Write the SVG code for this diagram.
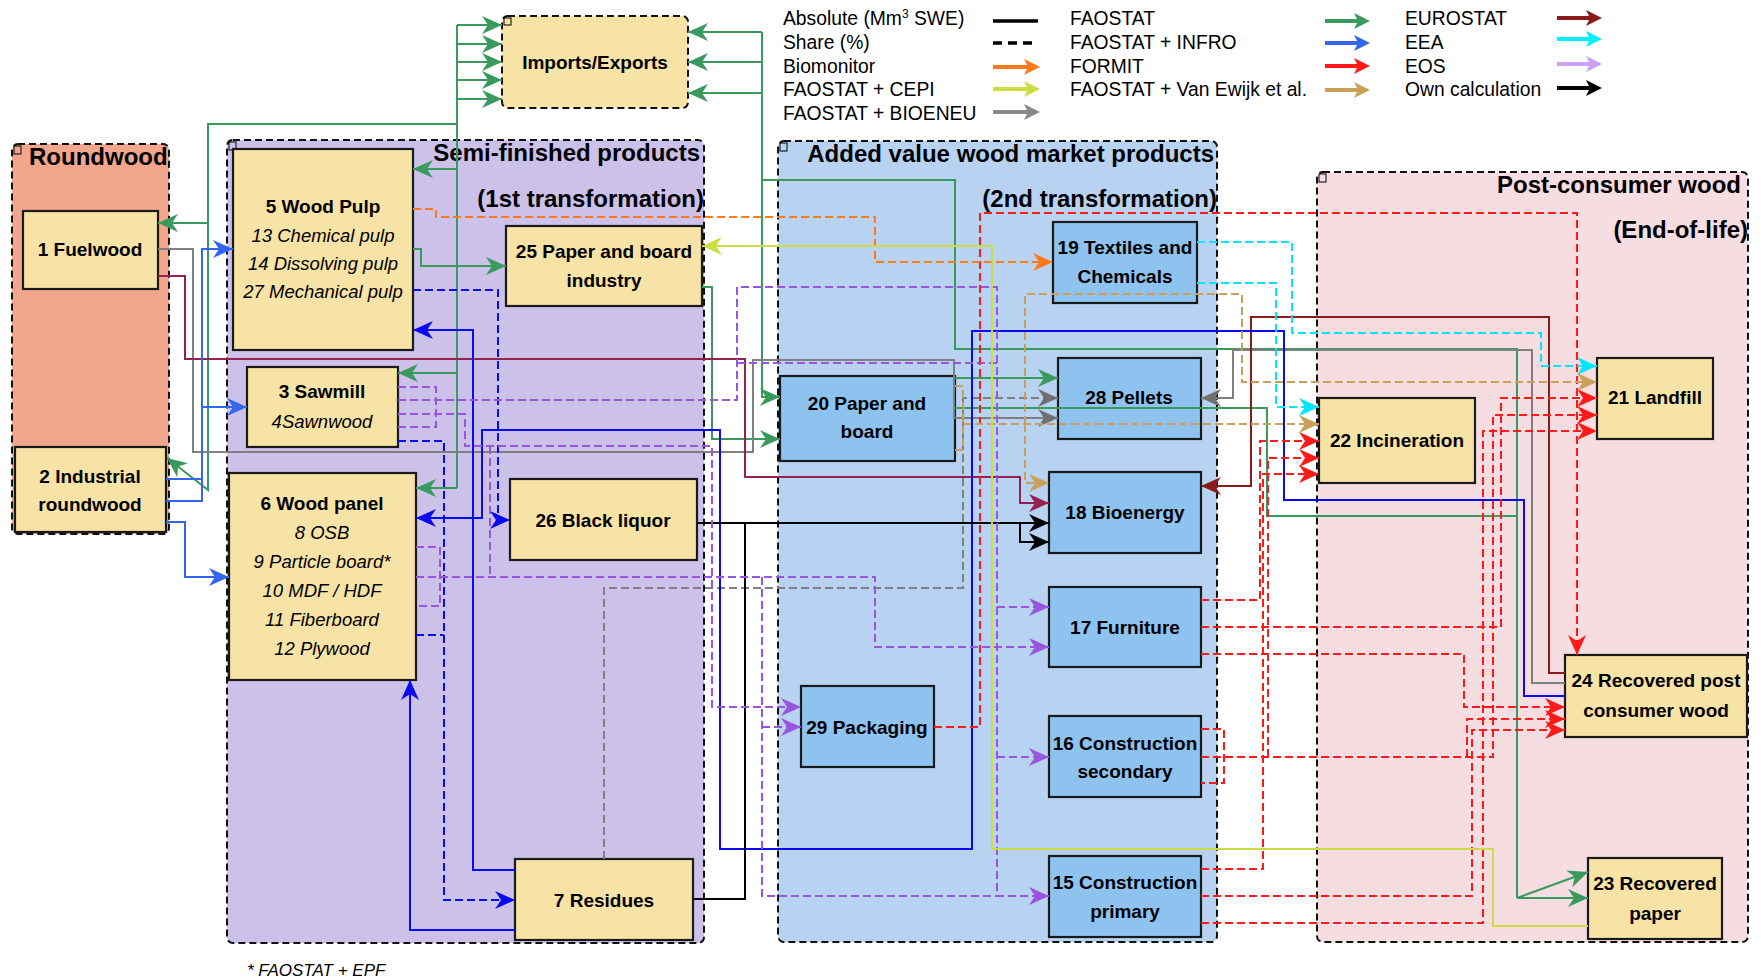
<svg xmlns="http://www.w3.org/2000/svg" width="1761" height="980" viewBox="0 0 1761 980">
<style>
.grp{stroke:#111;stroke-width:2;stroke-dasharray:7 4}
.node{stroke:#1a1a1a;stroke-width:2.2}
.y{fill:#F7E3A5}.b{fill:#8EC2EF}
text{font-family:"Liberation Sans",Arial,sans-serif;fill:#000}
.t{font-size:19px;font-weight:bold;text-anchor:middle}
.i{font-size:18.5px;font-style:italic;text-anchor:middle}
.ttl{font-size:24px;font-weight:bold}
.lg{font-size:19.3px}
.c{fill:none;stroke-width:2}
.d{stroke-dasharray:8 4}
.gr{stroke:#3A9A5E}.gy{stroke:#7F7F7F}.mr{stroke:#962050}.dr{stroke:#8B1A1A}
.bl{stroke:#3366EE}.bp{stroke:#0A0AF0}.bk{stroke:#000}.pu{stroke:#9955DD}
.rd{stroke:#FF1A1A}.cy{stroke:#00E6FF}.tn{stroke:#C9A05A}.or{stroke:#FF7A1A}.yg{stroke:#CCDD44}
.lgl{fill:none;stroke-width:4}
</style>
<defs>
<marker id="aGr" markerUnits="userSpaceOnUse" markerWidth="20" markerHeight="18" viewBox="0 0 20 18" refX="20" refY="9" orient="auto"><path d="M0,0 L20,9 L0,18 L6,9 Z" fill="#3A9A5E"/></marker>
<marker id="aGy" markerUnits="userSpaceOnUse" markerWidth="20" markerHeight="18" viewBox="0 0 20 18" refX="20" refY="9" orient="auto"><path d="M0,0 L20,9 L0,18 L6,9 Z" fill="#6F6F6F"/></marker>
<marker id="aMr" markerUnits="userSpaceOnUse" markerWidth="20" markerHeight="18" viewBox="0 0 20 18" refX="20" refY="9" orient="auto"><path d="M0,0 L20,9 L0,18 L6,9 Z" fill="#962050"/></marker>
<marker id="aDr" markerUnits="userSpaceOnUse" markerWidth="20" markerHeight="18" viewBox="0 0 20 18" refX="20" refY="9" orient="auto"><path d="M0,0 L20,9 L0,18 L6,9 Z" fill="#8B1A1A"/></marker>
<marker id="aBl" markerUnits="userSpaceOnUse" markerWidth="20" markerHeight="18" viewBox="0 0 20 18" refX="20" refY="9" orient="auto"><path d="M0,0 L20,9 L0,18 L6,9 Z" fill="#3366EE"/></marker>
<marker id="aBp" markerUnits="userSpaceOnUse" markerWidth="20" markerHeight="18" viewBox="0 0 20 18" refX="20" refY="9" orient="auto"><path d="M0,0 L20,9 L0,18 L6,9 Z" fill="#0A0AF0"/></marker>
<marker id="aBk" markerUnits="userSpaceOnUse" markerWidth="20" markerHeight="18" viewBox="0 0 20 18" refX="20" refY="9" orient="auto"><path d="M0,0 L20,9 L0,18 L6,9 Z" fill="#000"/></marker>
<marker id="aPu" markerUnits="userSpaceOnUse" markerWidth="20" markerHeight="18" viewBox="0 0 20 18" refX="20" refY="9" orient="auto"><path d="M0,0 L20,9 L0,18 L6,9 Z" fill="#9955DD"/></marker>
<marker id="aRd" markerUnits="userSpaceOnUse" markerWidth="20" markerHeight="18" viewBox="0 0 20 18" refX="20" refY="9" orient="auto"><path d="M0,0 L20,9 L0,18 L6,9 Z" fill="#FF1A1A"/></marker>
<marker id="aCy" markerUnits="userSpaceOnUse" markerWidth="20" markerHeight="18" viewBox="0 0 20 18" refX="20" refY="9" orient="auto"><path d="M0,0 L20,9 L0,18 L6,9 Z" fill="#00E6FF"/></marker>
<marker id="aTn" markerUnits="userSpaceOnUse" markerWidth="20" markerHeight="18" viewBox="0 0 20 18" refX="20" refY="9" orient="auto"><path d="M0,0 L20,9 L0,18 L6,9 Z" fill="#C9A05A"/></marker>
<marker id="aOr" markerUnits="userSpaceOnUse" markerWidth="20" markerHeight="18" viewBox="0 0 20 18" refX="20" refY="9" orient="auto"><path d="M0,0 L20,9 L0,18 L6,9 Z" fill="#FF7A1A"/></marker>
<marker id="aYg" markerUnits="userSpaceOnUse" markerWidth="20" markerHeight="18" viewBox="0 0 20 18" refX="20" refY="9" orient="auto"><path d="M0,0 L20,9 L0,18 L6,9 Z" fill="#CCDD44"/></marker>
<marker id="lA" markerUnits="strokeWidth" markerWidth="4" markerHeight="4" viewBox="0 0 12 12" refX="9" refY="6" orient="auto"><path d="M0,0 L12,6 L0,12 L3,6 Z" fill="context-stroke"/></marker>
</defs>

<!-- containers -->
<g id="g-roundwood">
<rect x="12" y="144" width="157" height="390" rx="6" fill="#F2A68C" class="grp"/>
<rect x="14" y="146" width="7" height="8" fill="none" stroke="#000" stroke-width="1"/>
<text x="29" y="165" class="ttl">Roundwood</text>
</g>
<g id="g-semi">
<rect x="227" y="140" width="477" height="803" rx="6" fill="#CBC1E9" class="grp"/>
<rect x="229" y="142" width="7" height="8" fill="none" stroke="#000" stroke-width="1"/>
<text x="700" y="161" class="ttl" text-anchor="end">Semi-finished products</text>
<text x="704" y="207" class="ttl" text-anchor="end">(1st transformation)</text>
</g>
<g id="g-added">
<rect x="778" y="141" width="439" height="801" rx="6" fill="#B7D3F1" class="grp"/>
<rect x="780" y="143" width="7" height="8" fill="none" stroke="#000" stroke-width="1"/>
<text x="1214" y="162" class="ttl" text-anchor="end">Added value wood market products</text>
<text x="1217" y="207" class="ttl" text-anchor="end">(2nd transformation)</text>
</g>
<g id="g-post">
<rect x="1317" y="172" width="431" height="770" rx="6" fill="#F5DDE1" class="grp"/>
<rect x="1319" y="174" width="7" height="8" fill="none" stroke="#000" stroke-width="1"/>
<text x="1741" y="193" class="ttl" text-anchor="end">Post-consumer wood</text>
<text x="1748" y="238" class="ttl" text-anchor="end">(End-of-life)</text>
</g>

<!-- nodes -->
<g id="n-imports"><rect x="502" y="16" width="186" height="92" rx="6" class="y grp"/><rect x="504" y="18" width="7" height="7" fill="none" stroke="#000" stroke-width="1"/><text x="595" y="69" class="t">Imports/Exports</text></g>
<g id="n1"><rect x="23" y="211" width="135" height="78" class="node y"/><text x="90" y="256" class="t">1 Fuelwood</text></g>
<g id="n2"><rect x="15" y="447" width="151" height="85" class="node y"/><text x="90" y="483" class="t">2 Industrial</text><text x="90" y="511" class="t">roundwood</text></g>
<g id="n5"><rect x="233" y="149" width="180" height="201" class="node y"/><text x="323" y="213" class="t">5 Wood Pulp</text><text x="323" y="242" class="i">13 Chemical pulp</text><text x="323" y="270" class="i">14 Dissolving pulp</text><text x="323" y="298" class="i">27 Mechanical pulp</text></g>
<g id="n25"><rect x="506" y="226" width="196" height="80" class="node y"/><text x="604" y="258" class="t">25 Paper and board</text><text x="604" y="287" class="t">industry</text></g>
<g id="n3"><rect x="247" y="367" width="151" height="80" class="node y"/><text x="322" y="398" class="t">3 Sawmill</text><text x="322" y="428" class="i">4Sawnwood</text></g>
<g id="n6"><rect x="229" y="473" width="187" height="207" class="node y"/><text x="322" y="510" class="t">6 Wood panel</text><text x="322" y="539" class="i">8 OSB</text><text x="322" y="568" class="i">9 Particle board*</text><text x="322" y="597" class="i">10 MDF / HDF</text><text x="322" y="626" class="i">11 Fiberboard</text><text x="322" y="655" class="i">12 Plywood</text></g>
<g id="n26"><rect x="510" y="479" width="187" height="81" class="node y"/><text x="603" y="527" class="t">26 Black liquor</text></g>
<g id="n7"><rect x="515" y="859" width="178" height="81" class="node y"/><text x="604" y="907" class="t">7 Residues</text></g>
<g id="n20"><rect x="780" y="376" width="175" height="85" class="node b"/><text x="867" y="410" class="t">20 Paper and</text><text x="867" y="438" class="t">board</text></g>
<g id="n19"><rect x="1053" y="222" width="144" height="81" class="node b"/><text x="1125" y="254" class="t">19 Textiles and</text><text x="1125" y="283" class="t">Chemicals</text></g>
<g id="n28"><rect x="1058" y="358" width="143" height="81" class="node b"/><text x="1129" y="404" class="t">28 Pellets</text></g>
<g id="n18"><rect x="1049" y="472" width="152" height="81" class="node b"/><text x="1125" y="519" class="t">18 Bioenergy</text></g>
<g id="n17"><rect x="1049" y="587" width="152" height="80" class="node b"/><text x="1125" y="634" class="t">17 Furniture</text></g>
<g id="n29"><rect x="801" y="686" width="133" height="81" class="node b"/><text x="867" y="734" class="t">29 Packaging</text></g>
<g id="n16"><rect x="1049" y="716" width="152" height="81" class="node b"/><text x="1125" y="750" class="t">16 Construction</text><text x="1125" y="778" class="t">secondary</text></g>
<g id="n15"><rect x="1049" y="856" width="152" height="81" class="node b"/><text x="1125" y="889" class="t">15 Construction</text><text x="1125" y="918" class="t">primary</text></g>
<g id="n22"><rect x="1319" y="398" width="156" height="85" class="node y"/><text x="1397" y="447" class="t">22 Incineration</text></g>
<g id="n21"><rect x="1597" y="358" width="116" height="81" class="node y"/><text x="1655" y="404" class="t">21 Landfill</text></g>
<g id="n24"><rect x="1565" y="655" width="182" height="82" class="node y"/><text x="1656" y="687" class="t">24 Recovered post</text><text x="1656" y="717" class="t">consumer wood</text></g>
<g id="n23"><rect x="1588" y="858" width="134" height="81" class="node y"/><text x="1655" y="890" class="t">23 Recovered</text><text x="1655" y="920" class="t">paper</text></g>

<!-- connectors -->
<g id="connectors">
<path class="c gr" d="M457,25 V488"/>
<path class="c gr" d="M457,25 H502" marker-end="url(#aGr)"/>
<path class="c gr" d="M457,44 H502" marker-end="url(#aGr)"/>
<path class="c gr" d="M457,62 H502" marker-end="url(#aGr)"/>
<path class="c gr" d="M457,80 H502" marker-end="url(#aGr)"/>
<path class="c gr" d="M457,99 H502" marker-end="url(#aGr)"/>
<path class="c gr" d="M457,169 H413" marker-end="url(#aGr)"/>
<path class="c gr" d="M457,373 H398" marker-end="url(#aGr)"/>
<path class="c gr" d="M457,488 H416" marker-end="url(#aGr)"/>
<path class="c gr" d="M457,124 H208 V490 L167,458" marker-end="url(#aGr)"/>
<path class="c gr" d="M208,223 H158" marker-end="url(#aGr)"/>
<path class="c gr" d="M413,249 H421 V266 H506" marker-end="url(#aGr)"/>
<path class="c gr" d="M702,287 H712 V439 H780" marker-end="url(#aGr)"/>
<path class="c gr" d="M762,32 V397 H780" marker-end="url(#aGr)"/>
<path class="c gr" d="M762,32 H688" marker-end="url(#aGr)"/>
<path class="c gr" d="M762,62 H688" marker-end="url(#aGr)"/>
<path class="c gr" d="M762,93 H688" marker-end="url(#aGr)"/>
<path class="c gr" d="M762,180 H955 V349 H1517 V898"/>
<path class="c gr" d="M1517,898 L1588,872" marker-end="url(#aGr)"/>
<path class="c gr" d="M1517,898 H1588" marker-end="url(#aGr)"/>
<path class="c gr" d="M955,378 H1058" marker-end="url(#aGr)"/>
<path class="c gr" d="M955,408 H1267 V516 H1517"/>
<path class="c gy" d="M158,249 H193 V452 H753 V360 H954 V418 H1058" marker-end="url(#aGy)"/>
<path class="c gy d" d="M604,859 V588 H963 V398 H1058" marker-end="url(#aGy)"/>
<path class="c gy" d="M1565,683 H1532 V350 H1233 V398 H1201" marker-end="url(#aGy)"/>
<path class="c mr" d="M158,276 H185 V359 H745 V477 H1020 V503 H1049" marker-end="url(#aMr)"/>
<path class="c dr" d="M1565,673 H1549 V317 H1251 V486 H1201" marker-end="url(#aDr)"/>
<path class="c bl" d="M166,479 H202"/>
<path class="c bl" d="M166,501 H202 V249 H233" marker-end="url(#aBl)"/>
<path class="c bl" d="M202,407 H247" marker-end="url(#aBl)"/>
<path class="c bl" d="M166,522 H185 V577 H229" marker-end="url(#aBl)"/>
<path class="c bp" d="M515,930 H410 V680" marker-end="url(#aBp)"/>
<path class="c bp" d="M515,870 H473 V330 H413" marker-end="url(#aBp)"/>
<path class="c bp d" d="M413,290 H498 V520 H510" marker-end="url(#aBp)"/>
<path class="c bp d" d="M398,441 H444 V900 H515" marker-end="url(#aBp)"/>
<path class="c bp d" d="M416,635 H444"/>
<path class="c bp" d="M1565,696 H1524 V500 H1284 V331 H972 V849 H720 V430 H482 V518 H416" marker-end="url(#aBp)"/>
<path class="c bk" d="M697,523 H1049" marker-end="url(#aBk)"/>
<path class="c bk" d="M693,899 H745 V523"/>
<path class="c bk" d="M1020,523 V542 H1049" marker-end="url(#aBk)"/>
<path class="c pu d" d="M398,387 H436 V427 H398"/>
<path class="c pu d" d="M398,400 H737 V287 H997 V896 H1049" marker-end="url(#aPu)"/>
<path class="c pu d" d="M997,607 H1049" marker-end="url(#aPu)"/>
<path class="c pu d" d="M997,757 H1049" marker-end="url(#aPu)"/>
<path class="c pu d" d="M737,363 H997"/>
<path class="c pu d" d="M398,414 H465 V446 H712 V707 H801" marker-end="url(#aPu)"/>
<path class="c pu d" d="M416,547 H440 V606 H416"/>
<path class="c pu d" d="M416,577 H875 V647 H1049" marker-end="url(#aPu)"/>
<path class="c pu d" d="M490,446 V577"/>
<path class="c pu d" d="M762,577 V896 H997"/>
<path class="c pu d" d="M762,727 H801" marker-end="url(#aPu)"/>
<path class="c rd d" d="M934,727 H980 V213 H1577 V655" marker-end="url(#aRd)"/>
<path class="c rd d" d="M1201,600 H1260 V441 H1319" marker-end="url(#aRd)"/>
<path class="c rd d" d="M1201,627 H1501 V398 H1597" marker-end="url(#aRd)"/>
<path class="c rd d" d="M1201,654 H1464 V707 H1565" marker-end="url(#aRd)"/>
<path class="c rd d" d="M1201,757 H1493 V415 H1597" marker-end="url(#aRd)"/>
<path class="c rd d" d="M1268,757 V458 H1319" marker-end="url(#aRd)"/>
<path class="c rd d" d="M1467,757 V719 H1565" marker-end="url(#aRd)"/>
<path class="c rd d" d="M1201,729 H1224 V783 H1201"/>
<path class="c rd d" d="M1201,869 H1263 V474 H1319" marker-end="url(#aRd)"/>
<path class="c rd d" d="M1201,896 H1472 V730 H1565" marker-end="url(#aRd)"/>
<path class="c rd d" d="M1201,923 H1483 V431 H1597" marker-end="url(#aRd)"/>
<path class="c cy d" d="M1197,242 H1292 V333 H1541 V366 H1597" marker-end="url(#aCy)"/>
<path class="c cy d" d="M1197,283 H1276 V407 H1319" marker-end="url(#aCy)"/>
<path class="c tn d" d="M955,386 H963 V450 H955"/>
<path class="c tn d" d="M963,424 H1319" marker-end="url(#aTn)"/>
<path class="c tn d" d="M1025,424 V483 H1049" marker-end="url(#aTn)"/>
<path class="c tn d" d="M1025,424 V294 H1242 V382 H1597" marker-end="url(#aTn)"/>
<path class="c or d" d="M413,209 H436 V217 H875 V262 H1053" marker-end="url(#aOr)"/>
<path class="c yg" d="M1588,926 H1493 V849 H992 V246 H702" marker-end="url(#aYg)"/>
</g>

<g id="legend">
<text x="783" y="25" class="lg">Absolute (Mm<tspan font-size="12" dy="-7">3</tspan><tspan dy="7"> SWE)</tspan></text>
<text x="783" y="49" class="lg">Share (%)</text>
<text x="783" y="73" class="lg">Biomonitor</text>
<text x="783" y="96" class="lg">FAOSTAT + CEPI</text>
<text x="783" y="120" class="lg">FAOSTAT + BIOENEU</text>
<text x="1070" y="25" class="lg">FAOSTAT</text>
<text x="1070" y="49" class="lg">FAOSTAT + INFRO</text>
<text x="1070" y="73" class="lg">FORMIT</text>
<text x="1070" y="96" class="lg">FAOSTAT + Van Ewijk et al.</text>
<text x="1405" y="25" class="lg">EUROSTAT</text>
<text x="1405" y="49" class="lg">EEA</text>
<text x="1405" y="73" class="lg">EOS</text>
<text x="1405" y="96" class="lg">Own calculation</text>
<path d="M993,21 H1038" stroke="#000" stroke-width="3.5" fill="none"/>
<path d="M993,43 H1038" stroke="#000" stroke-width="3.5" fill="none" stroke-dasharray="9 6"/>
<path d="M993,67 H1036" class="lgl" stroke="#FF7A1A" marker-end="url(#lA)"/>
<path d="M993,89 H1036" class="lgl" stroke="#CCDD44" marker-end="url(#lA)"/>
<path d="M993,112 H1036" class="lgl" stroke="#888888" marker-end="url(#lA)"/>
<path d="M1325,21 H1366" class="lgl" stroke="#3A9A5E" marker-end="url(#lA)"/>
<path d="M1325,43 H1366" class="lgl" stroke="#3366EE" marker-end="url(#lA)"/>
<path d="M1325,66 H1366" class="lgl" stroke="#FF1A1A" marker-end="url(#lA)"/>
<path d="M1325,90 H1366" class="lgl" stroke="#C9A05A" marker-end="url(#lA)"/>
<path d="M1557,18 H1598" class="lgl" stroke="#8B1A1A" marker-end="url(#lA)"/>
<path d="M1557,39 H1598" class="lgl" stroke="#00F0FF" marker-end="url(#lA)"/>
<path d="M1557,64 H1598" class="lgl" stroke="#C8A0F5" marker-end="url(#lA)"/>
<path d="M1557,88 H1598" class="lgl" stroke="#000" marker-end="url(#lA)"/>
</g>
<text x="247" y="976" font-size="17" font-style="italic">* FAOSTAT + EPF</text>
</svg>
